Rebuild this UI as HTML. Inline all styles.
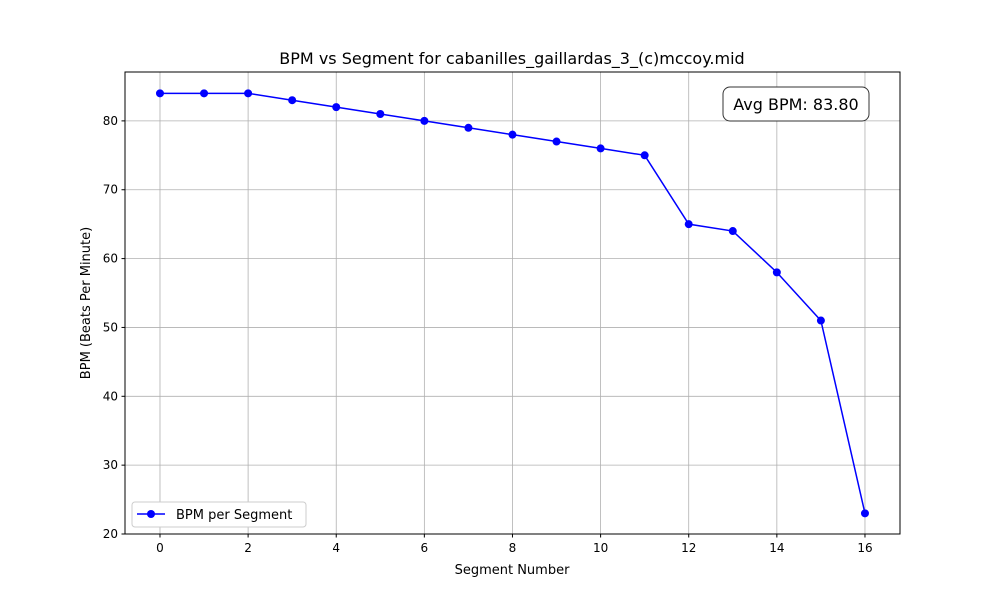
<!DOCTYPE html>
<html><head><meta charset="utf-8"><style>
body{margin:0;background:#fff;font-family:"Liberation Sans","DejaVu Sans",sans-serif;}
svg text{font-family:"DejaVu Sans","Liberation Sans",sans-serif;}
</style></head><body>
<svg id="c" width="1000" height="600" xmlns="http://www.w3.org/2000/svg">
<rect width="1000" height="600" fill="#fff"/>
<g id="grid"></g><g id="ticks"></g><g id="series"></g>
<rect x="125" y="72" width="775" height="462" fill="none" stroke="#000" stroke-width="1"/>
<text x="512" y="64" text-anchor="middle" font-size="16">BPM vs Segment for cabanilles_gaillardas_3_(c)mccoy.mid</text>
<text x="512" y="574" text-anchor="middle" font-size="13">Segment Number</text>
<text transform="translate(90,303) rotate(-90)" text-anchor="middle" font-size="13">BPM (Beats Per Minute)</text>
<g>
<rect x="723" y="87" width="146" height="34" rx="7" fill="#fff" stroke="#333" stroke-width="1"/>
<text x="796" y="110" text-anchor="middle" font-size="16">Avg BPM: 83.80</text>
</g>
<g>
<rect x="132" y="502" width="174" height="25" rx="3" fill="#fff" stroke="#ccc"/>
<line x1="137" y1="514" x2="165" y2="514" stroke="#0000ff" stroke-width="1.5"/>
<circle cx="151" cy="514" r="4" fill="#0000ff"/>
<text x="176" y="519" font-size="13">BPM per Segment</text>
</g>
</svg>
<script>
const segments=[0,1,2,3,4,5,6,7,8,9,10,11,12,13,14,15,16];
const bpm=[84,84,84,83,82,81,80,79,78,77,76,75,65,64,58,51,23];
const xTicks=[0,2,4,6,8,10,12,14,16];
const yTicks=[20,30,40,50,60,70,80];
const NS="http://www.w3.org/2000/svg";
const X0=125,X1=900,Y0=534,Y1=72,xmin=-0.794,xmax=16.795,ymin=20,ymax=87.1;
const sx=v=>X0+(v-xmin)/(xmax-xmin)*(X1-X0);
const sy=v=>Y0-(v-ymin)/(ymax-ymin)*(Y0-Y1);
function mk(tag,attrs,parent){const e=document.createElementNS(NS,tag);for(const k in attrs)e.setAttribute(k,attrs[k]);document.getElementById(parent).appendChild(e);return e;}
xTicks.forEach(t=>{const x=sx(t);
const g=mk('line',{x1:x,x2:x,y1:Y1,y2:Y0,stroke:'#b0b0b0','stroke-width':0.8},'grid');


mk('line',{x1:x,x2:x,y1:Y0,y2:Y0+3.5,stroke:'#000'},'ticks');
const l=mk('text',{x:x,y:Y0+18,'text-anchor':'middle','font-size':12},'ticks');l.textContent=t;

});
yTicks.forEach(t=>{const y=sy(t);
const g=mk('line',{x1:X0,x2:X1,y1:y,y2:y,stroke:'#b0b0b0','stroke-width':0.8},'grid');


mk('line',{x1:X0-3.5,x2:X0,y1:y,y2:y,stroke:'#000'},'ticks');
const l=mk('text',{x:X0-7,y:y+4,'text-anchor':'end','font-size':12},'ticks');l.textContent=t;

});
const pl=mk('polyline',{points:segments.map((s,i)=>sx(s)+','+sy(bpm[i])).join(' '),fill:'none',stroke:'#0000ff','stroke-width':1.5},'series');


segments.forEach((s,i)=>{const c=mk('circle',{cx:sx(s),cy:sy(bpm[i]),r:4,fill:'#0000ff'},'series');

});
</script>
</body></html>
